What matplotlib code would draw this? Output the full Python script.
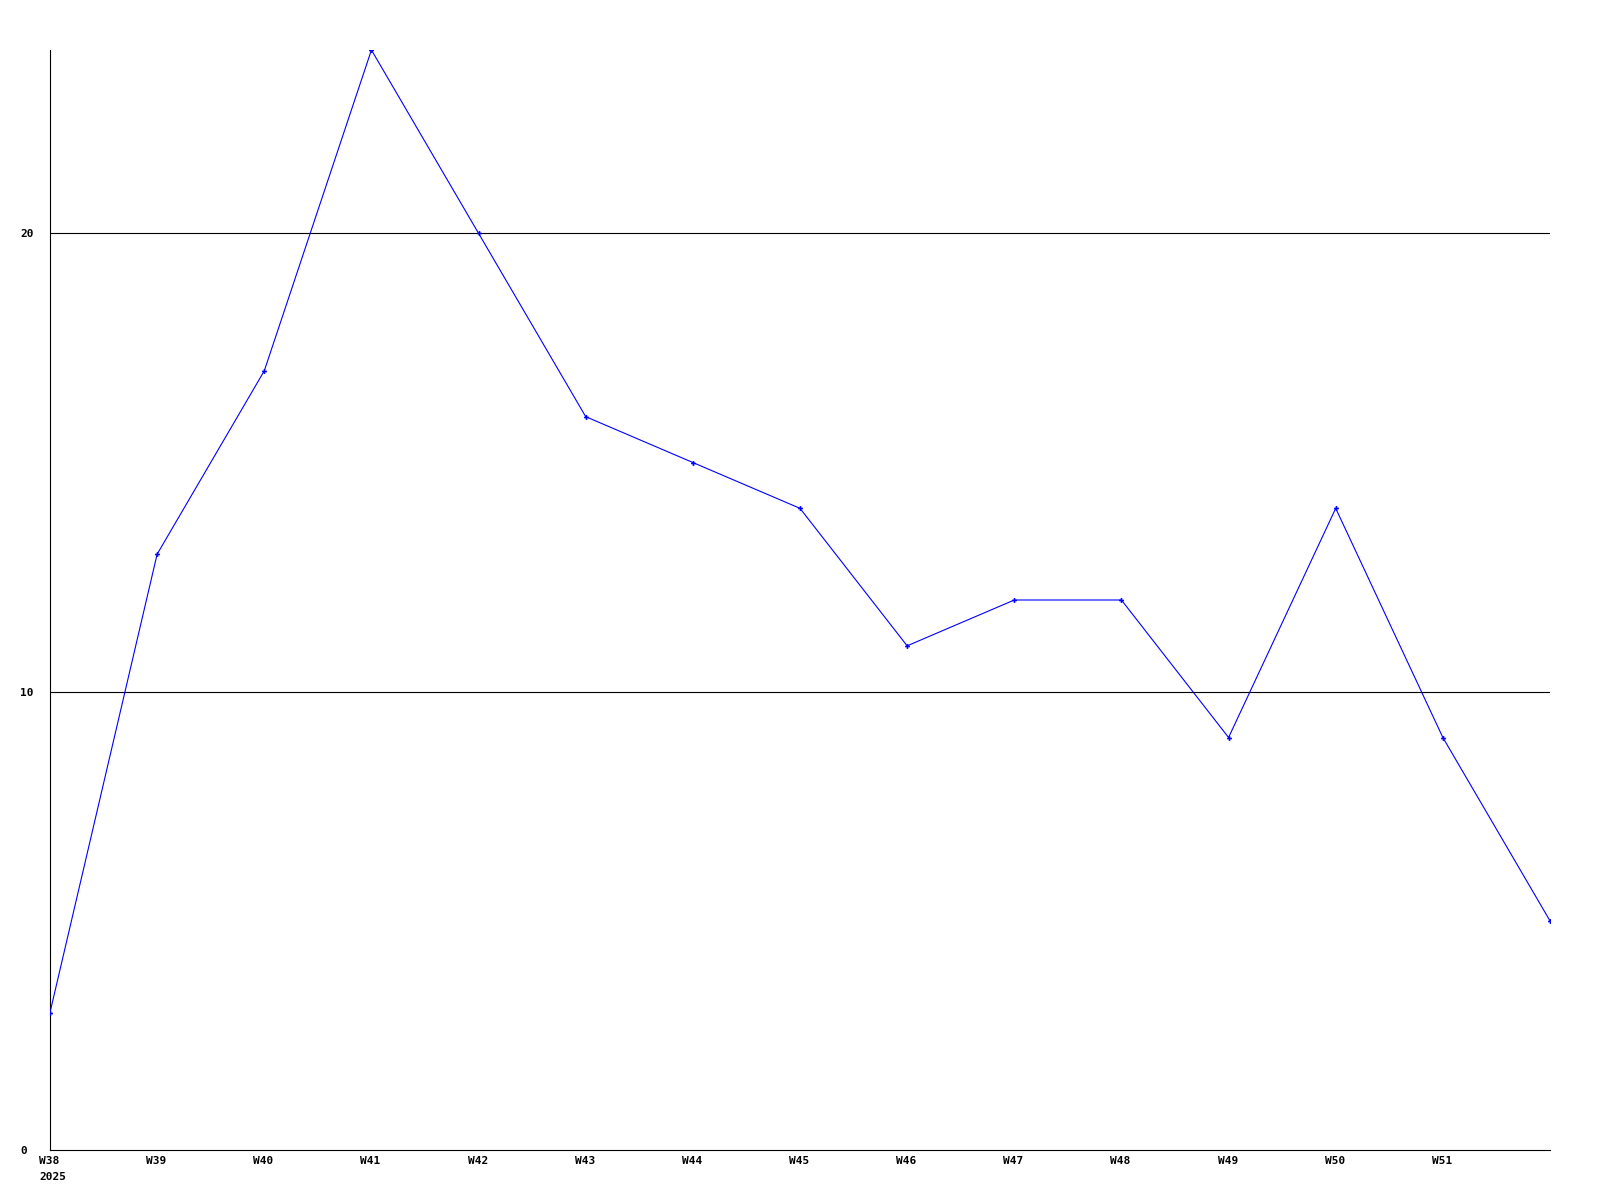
import matplotlib
matplotlib.use("Agg")
import matplotlib.pyplot as plt
import matplotlib.transforms as mtrans

weeks = ["W38\n2025", "W39", "W40", "W41", "W42", "W43", "W44", "W45", "W46", "W47", "W48", "W49", "W50", "W51", ""]
values = [3, 13, 17, 24, 20, 16, 15, 14, 11, 12, 12, 9, 14, 9, 5]
yticks = [0, 10, 20]

fig = plt.figure(figsize=(16, 12), dpi=100)
ax = fig.add_axes([50/1600, 1 - 1150/1200, 1500/1600, 1100/1200])
x = list(range(len(values)))
ax.plot(x, values, color="#0000ff", linewidth=0.8, marker="P", markersize=3.5,
        markeredgewidth=0, markerfacecolor="#0000ff", zorder=3)
ax.set_xlim(0, len(values) - 1)
ax.set_ylim(0, 24)
for yv in yticks[1:]:
    ax.axhline(yv, color="black", linewidth=0.8, zorder=1)
ax.set_yticks(yticks)
ax.set_yticklabels([str(v) for v in yticks], fontfamily="DejaVu Sans Mono",
                   fontweight="bold", fontsize=8, ha="left")
ax.set_xticks(x[:-1])
ax.set_xticklabels(weeks[:-1], fontfamily="DejaVu Sans Mono",
                   fontweight="bold", fontsize=8, ha="left", linespacing=1.7)
ax.tick_params(axis="y", length=0, pad=21.5)
ax.tick_params(axis="x", length=0, pad=4.5)
offset = mtrans.ScaledTranslation(-11/100, 0, fig.dpi_scale_trans)
for lbl in ax.get_xticklabels():
    lbl.set_transform(lbl.get_transform() + offset)
for s in ["top", "right"]:
    ax.spines[s].set_visible(False)
ax.spines["left"].set_linewidth(0.8)
ax.spines["bottom"].set_linewidth(0.8)
fig.savefig("out.png", dpi=100)
